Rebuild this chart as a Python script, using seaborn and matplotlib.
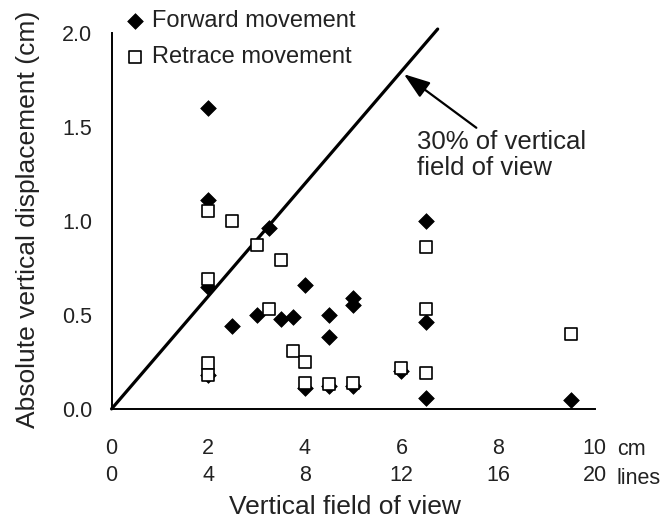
import matplotlib
matplotlib.use("Agg")
import matplotlib.pyplot as plt
import seaborn as sns
import pandas as pd

# ---- data ----
fwd_x = [2, 2, 2, 2, 2.5, 3.25, 3.0, 3.5, 3.75, 4, 4, 4.5, 4.5, 4.5, 5, 5, 5, 6, 6.5, 6.5, 6.5, 9.5]
fwd_y = [1.6, 1.11, 0.65, 0.18, 0.44, 0.96, 0.50, 0.48, 0.49, 0.66, 0.11, 0.50, 0.38, 0.12, 0.59, 0.55, 0.12, 0.20, 1.00, 0.46, 0.06, 0.05]

ret_x = [2, 2.5, 3.0, 3.5, 2, 3.25, 2, 2, 3.75, 4, 4, 4.5, 5, 6, 6.5, 6.5, 6.5, 9.5]
ret_y = [1.05, 1.00, 0.87, 0.79, 0.69, 0.53, 0.245, 0.18, 0.31, 0.25, 0.14, 0.13, 0.14, 0.22, 0.86, 0.53, 0.19, 0.40]

line_x = [0, 6.75]
line_y = [0, 2.02]

cm_ticks = [0, 2, 4, 6, 8, 10]
line_ticks = [0, 4, 8, 12, 16, 20]
y_ticks = [0.0, 0.5, 1.0, 1.5, 2.0]
y_labels = ["0.0", "0.5", "1.0", "1.5", "2.0"]

series_names = ["Forward movement", "Retrace movement"]
axis_labels = ["Vertical field of view", "Absolute vertical displacement (cm)"]
note = "30% of vertical\nfield of view"

# ---- style ----
sns.set_style("white")
plt.rcParams["font.family"] = ["Liberation Sans", "DejaVu Sans"]

fig, ax = plt.subplots(figsize=(6.72, 5.29), dpi=100)
fig.subplots_adjust(left=0.166, right=0.885, bottom=0.227, top=0.938)

fwd = pd.DataFrame({"x": fwd_x, "y": fwd_y})
ret = pd.DataFrame({"x": ret_x, "y": ret_y})
ln = pd.DataFrame({"x": line_x, "y": line_y})

sns.lineplot(data=ln, x="x", y="y", color="black", linewidth=2.3, ax=ax, zorder=2,
             clip_on=False)
sns.scatterplot(data=fwd, x="x", y="y", marker="D", s=64, color="black",
                edgecolor="black", linewidth=0.5, ax=ax, zorder=3, clip_on=False,
                label=series_names[0])
sns.scatterplot(data=ret, x="x", y="y", marker="s", s=72, facecolor="white",
                edgecolor="black", linewidth=1.2, ax=ax, zorder=4, clip_on=False,
                label=series_names[1])

ax.set_xlim(0, 10)
ax.set_ylim(0, 2.0)
ax.set_xticks(cm_ticks)
ax.set_xticklabels([f"{a}\n{b}" for a, b in zip(cm_ticks, line_ticks)],
                   fontsize=15.5, linespacing=1.4)
ax.set_yticks(y_ticks)
ax.set_yticklabels(y_labels, fontsize=15.5)
ax.tick_params(axis="both", direction="out", length=4, width=1.2, color="black",
               labelcolor="#222222")
ax.tick_params(axis="x", pad=17)
ax.tick_params(axis="y", pad=10)

for s in ["top", "right"]:
    ax.spines[s].set_visible(False)
for s in ["left", "bottom"]:
    ax.spines[s].set_color("black")
    ax.spines[s].set_linewidth(1.4)

ax.set_xlabel(axis_labels[0], fontsize=19, color="#222222")
ax.set_ylabel(axis_labels[1], fontsize=19, color="#222222")
ax.xaxis.set_label_coords(0.482, -0.228)
ax.yaxis.set_label_coords(-0.148, 0.505)

# unit labels after the last tick
tr = ax.get_xaxis_transform()
ax.annotate("cm", xy=(10, 0), xycoords=tr, xytext=(16, -29.5), textcoords="offset points",
            ha="left", va="center", fontsize=15.5, color="#222222", annotation_clip=False)
ax.annotate("lines", xy=(10, 0), xycoords=tr, xytext=(16, -50), textcoords="offset points",
            ha="left", va="center", fontsize=15.5, color="#222222", annotation_clip=False)

# annotation
ax.annotate("", xy=(6.05, 1.78), xytext=(7.55, 1.495),
            arrowprops=dict(arrowstyle="-|>,head_length=0.8,head_width=0.28",
                            color="black", lw=1.6, mutation_scale=20, shrinkA=0, shrinkB=0))
ax.text(6.32, 1.35, note, ha="left", va="center", fontsize=18.5, linespacing=1.15,
        color="#222222")

leg = ax.legend(loc="upper left", bbox_to_anchor=(126 / 672, 1 - 10 / 529),
                bbox_transform=fig.transFigure, frameon=False, fontsize=17,
                handlelength=0.8, handletextpad=0.3, labelspacing=0.59,
                borderpad=0, borderaxespad=0)
for t in leg.get_texts():
    t.set_color("#222222")

fig.savefig("out.png", dpi=100)
